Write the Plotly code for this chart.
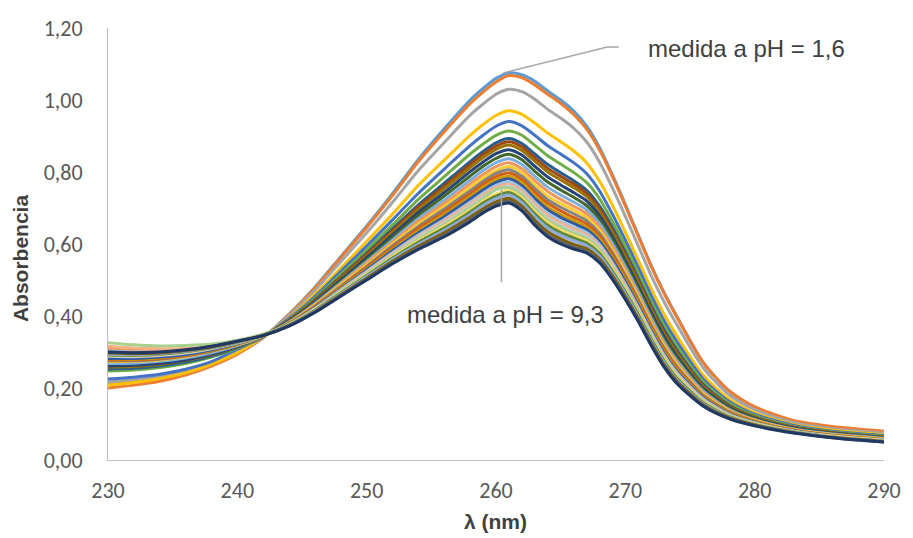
import plotly.graph_objects as go

# Wavelength grid (nm)
wavelength = [230, 232, 234, 236, 238, 240, 242, 244, 246, 248, 250, 252, 254, 256, 258,
              259, 260, 261, 262, 263, 264, 265, 266, 267, 268, 269, 270, 271, 272, 273, 274,
              276, 278, 280, 283, 286, 290]

# Absorbance spectra (one list per measurement, from pH 1,6 down to pH 9,3)
s01 = [0.215,0.218,0.226,0.240,0.263,0.295,0.340,0.405,0.480,0.565,0.650,0.740,0.835,0.920,1.000,1.032,1.060,1.075,1.070,1.052,1.025,1.000,0.970,0.928,0.868,0.792,0.710,0.625,0.540,0.465,0.398,0.272,0.192,0.146,0.108,0.091,0.078]
s02 = [0.200,0.208,0.219,0.236,0.261,0.294,0.340,0.404,0.478,0.562,0.646,0.735,0.829,0.912,0.990,1.022,1.050,1.068,1.062,1.042,1.016,0.991,0.960,0.920,0.862,0.788,0.706,0.622,0.538,0.463,0.396,0.272,0.193,0.148,0.110,0.093,0.080]
s03 = [0.217,0.223,0.232,0.246,0.269,0.299,0.341,0.401,0.471,0.551,0.631,0.716,0.804,0.882,0.958,0.989,1.016,1.030,1.023,1.002,0.974,0.950,0.922,0.884,0.828,0.756,0.677,0.595,0.512,0.439,0.375,0.257,0.182,0.140,0.104,0.087,0.075]
s04 = [0.208,0.215,0.226,0.242,0.266,0.298,0.342,0.395,0.460,0.533,0.607,0.683,0.763,0.833,0.902,0.932,0.957,0.970,0.960,0.936,0.908,0.884,0.859,0.826,0.775,0.708,0.633,0.555,0.476,0.405,0.344,0.237,0.170,0.131,0.098,0.083,0.070]
s05 = [0.225,0.230,0.238,0.252,0.273,0.308,0.342,0.393,0.454,0.524,0.594,0.667,0.741,0.808,0.873,0.902,0.927,0.940,0.928,0.902,0.873,0.850,0.826,0.796,0.748,0.683,0.611,0.535,0.457,0.387,0.328,0.226,0.163,0.127,0.096,0.080,0.068]
s06 = [0.247,0.250,0.257,0.268,0.286,0.311,0.343,0.390,0.449,0.516,0.583,0.653,0.724,0.787,0.850,0.878,0.902,0.914,0.902,0.874,0.845,0.822,0.799,0.771,0.726,0.663,0.593,0.518,0.441,0.373,0.315,0.218,0.158,0.123,0.093,0.078,0.066]
s07 = [0.253,0.255,0.261,0.272,0.289,0.313,0.343,0.388,0.445,0.509,0.574,0.642,0.709,0.769,0.829,0.857,0.881,0.893,0.879,0.850,0.821,0.798,0.776,0.750,0.706,0.646,0.577,0.504,0.428,0.361,0.304,0.210,0.153,0.120,0.091,0.076,0.064]
s08 = [0.272,0.272,0.276,0.285,0.298,0.316,0.343,0.388,0.443,0.507,0.571,0.637,0.703,0.761,0.821,0.849,0.872,0.884,0.870,0.840,0.810,0.788,0.767,0.741,0.698,0.638,0.570,0.498,0.422,0.355,0.299,0.207,0.151,0.119,0.091,0.076,0.063]
s09 = [0.258,0.260,0.265,0.276,0.292,0.314,0.343,0.387,0.441,0.504,0.567,0.632,0.696,0.754,0.812,0.840,0.863,0.875,0.860,0.830,0.800,0.778,0.757,0.732,0.690,0.631,0.564,0.492,0.417,0.350,0.295,0.204,0.149,0.118,0.090,0.075,0.063]
s10 = [0.261,0.263,0.268,0.278,0.294,0.316,0.344,0.386,0.439,0.500,0.562,0.625,0.688,0.743,0.801,0.828,0.851,0.862,0.847,0.816,0.786,0.764,0.743,0.720,0.679,0.621,0.554,0.483,0.409,0.343,0.288,0.200,0.147,0.116,0.089,0.074,0.062]
s11 = [0.283,0.281,0.283,0.290,0.302,0.320,0.344,0.384,0.436,0.496,0.556,0.618,0.679,0.733,0.789,0.816,0.838,0.849,0.834,0.802,0.772,0.750,0.730,0.707,0.668,0.611,0.545,0.475,0.401,0.336,0.282,0.196,0.144,0.114,0.087,0.073,0.061]
s12 = [0.268,0.269,0.274,0.283,0.298,0.318,0.344,0.383,0.434,0.492,0.551,0.611,0.670,0.722,0.777,0.804,0.826,0.837,0.821,0.788,0.758,0.736,0.717,0.695,0.657,0.601,0.536,0.467,0.394,0.328,0.275,0.192,0.141,0.112,0.086,0.072,0.060]
s13 = [0.310,0.306,0.305,0.307,0.313,0.324,0.344,0.382,0.432,0.489,0.547,0.605,0.663,0.713,0.767,0.793,0.815,0.826,0.809,0.776,0.746,0.724,0.705,0.684,0.647,0.592,0.528,0.459,0.387,0.322,0.270,0.188,0.139,0.111,0.085,0.071,0.059]
s14 = [0.273,0.274,0.278,0.287,0.301,0.320,0.344,0.381,0.430,0.486,0.542,0.600,0.655,0.704,0.757,0.783,0.804,0.815,0.798,0.764,0.733,0.712,0.694,0.674,0.638,0.583,0.520,0.452,0.380,0.316,0.264,0.184,0.137,0.109,0.084,0.070,0.058]
s15 = [0.276,0.276,0.280,0.289,0.302,0.321,0.345,0.380,0.428,0.483,0.538,0.595,0.649,0.697,0.748,0.774,0.796,0.806,0.788,0.754,0.723,0.702,0.684,0.665,0.630,0.576,0.513,0.446,0.375,0.311,0.259,0.181,0.135,0.108,0.083,0.069,0.057]
s16 = [0.278,0.278,0.282,0.290,0.304,0.322,0.345,0.380,0.426,0.480,0.535,0.590,0.643,0.689,0.740,0.766,0.787,0.797,0.779,0.744,0.713,0.692,0.674,0.656,0.622,0.569,0.507,0.440,0.369,0.306,0.255,0.178,0.133,0.107,0.083,0.069,0.056]
s17 = [0.281,0.280,0.284,0.292,0.305,0.323,0.345,0.379,0.424,0.478,0.531,0.585,0.636,0.682,0.731,0.757,0.778,0.788,0.770,0.734,0.703,0.682,0.665,0.647,0.614,0.561,0.500,0.434,0.364,0.300,0.250,0.175,0.131,0.106,0.082,0.068,0.056]
s18 = [0.282,0.282,0.286,0.293,0.306,0.324,0.345,0.378,0.423,0.475,0.528,0.581,0.631,0.676,0.725,0.750,0.771,0.781,0.762,0.726,0.695,0.674,0.657,0.640,0.607,0.556,0.495,0.429,0.359,0.296,0.246,0.173,0.129,0.104,0.081,0.067,0.055]
s19 = [0.303,0.300,0.300,0.303,0.311,0.325,0.345,0.377,0.421,0.473,0.524,0.576,0.625,0.668,0.716,0.741,0.762,0.772,0.753,0.716,0.685,0.664,0.647,0.632,0.599,0.548,0.488,0.423,0.354,0.291,0.242,0.170,0.127,0.103,0.080,0.067,0.055]
s20 = [0.316,0.311,0.309,0.310,0.315,0.327,0.345,0.377,0.420,0.471,0.522,0.573,0.621,0.664,0.711,0.736,0.757,0.766,0.747,0.710,0.679,0.658,0.642,0.626,0.594,0.544,0.484,0.420,0.350,0.288,0.239,0.168,0.126,0.102,0.080,0.066,0.054]
s21 = [0.288,0.287,0.290,0.297,0.309,0.326,0.345,0.376,0.419,0.469,0.520,0.570,0.618,0.659,0.706,0.731,0.751,0.761,0.741,0.704,0.673,0.652,0.636,0.621,0.590,0.540,0.480,0.416,0.347,0.285,0.236,0.166,0.125,0.102,0.079,0.066,0.054]
s22 = [0.326,0.320,0.317,0.318,0.322,0.333,0.350,0.376,0.418,0.468,0.517,0.567,0.614,0.655,0.701,0.726,0.752,0.756,0.736,0.698,0.667,0.646,0.630,0.616,0.585,0.535,0.476,0.413,0.344,0.282,0.233,0.164,0.124,0.101,0.079,0.065,0.053]
s23 = [0.291,0.290,0.293,0.300,0.311,0.327,0.345,0.375,0.417,0.465,0.514,0.564,0.609,0.649,0.694,0.719,0.739,0.748,0.728,0.690,0.659,0.638,0.623,0.609,0.578,0.530,0.471,0.408,0.339,0.278,0.230,0.162,0.122,0.100,0.078,0.065,0.053]
s24 = [0.292,0.291,0.294,0.301,0.312,0.327,0.346,0.375,0.416,0.464,0.512,0.561,0.605,0.644,0.689,0.714,0.733,0.743,0.722,0.684,0.652,0.632,0.617,0.603,0.574,0.525,0.467,0.404,0.336,0.275,0.227,0.160,0.121,0.099,0.078,0.064,0.052]
s25 = [0.294,0.293,0.295,0.302,0.313,0.328,0.346,0.374,0.414,0.462,0.509,0.557,0.600,0.638,0.682,0.707,0.726,0.736,0.715,0.676,0.644,0.624,0.609,0.596,0.567,0.519,0.462,0.399,0.331,0.270,0.223,0.157,0.120,0.098,0.077,0.064,0.052]
s26 = [0.297,0.295,0.297,0.304,0.314,0.329,0.346,0.373,0.412,0.459,0.505,0.552,0.594,0.631,0.674,0.698,0.717,0.727,0.705,0.666,0.634,0.614,0.599,0.587,0.559,0.512,0.455,0.393,0.326,0.265,0.219,0.154,0.118,0.097,0.076,0.063,0.051]
s27 = [0.299,0.297,0.299,0.305,0.315,0.330,0.346,0.373,0.411,0.457,0.502,0.548,0.589,0.625,0.667,0.691,0.710,0.719,0.698,0.658,0.626,0.606,0.592,0.580,0.553,0.506,0.450,0.389,0.321,0.261,0.215,0.152,0.116,0.096,0.076,0.062,0.050]
s28 = [0.300,0.298,0.300,0.306,0.316,0.330,0.346,0.372,0.410,0.455,0.500,0.545,0.585,0.620,0.662,0.686,0.705,0.714,0.692,0.652,0.620,0.600,0.586,0.575,0.548,0.502,0.446,0.385,0.318,0.258,0.212,0.150,0.115,0.095,0.075,0.062,0.050]

spectra = [s01, s02, s03, s04, s05, s06, s07, s08, s09, s10, s11, s12, s13, s14,
           s15, s16, s17, s18, s19, s20, s21, s22, s23, s24, s25, s26, s27, s28]

colors = ["#5B9BD5", "#ED7D31", "#A5A5A5", "#FFC000", "#4472C4", "#70AD47",
          "#255E91", "#9E480E", "#997300", "#264478", "#43682B", "#7CAFDD",
          "#F1975A", "#FFCD33", "#848484", "#D26012", "#CC9A00", "#335AA1",
          "#9DC3E6", "#F4B183", "#C9C9C9", "#A9D18E", "#FFD966", "#5A8A39",
          "#8FAADC", "#7F6000", "#636363", "#203864"]

label_low = "medida a pH = 1,6"
label_high = "medida a pH = 9,3"

tick_font = dict(family="Carlito, Calibri, 'Liberation Sans', Arial, sans-serif", size=22, color="#595959")
title_font = dict(family="'Liberation Sans', Arial, sans-serif", size=21, color="#404040")
note_font = dict(family="'Liberation Sans', Arial, sans-serif", size=24, color="#404040")

fig = go.Figure()
for vals, col in zip(spectra, colors):
    fig.add_trace(go.Scatter(
        x=wavelength, y=vals, mode="lines",
        line=dict(color=col, width=3, shape="spline", smoothing=0.7),
        hoverinfo="skip", showlegend=False))

fig.update_layout(
    width=913, height=538,
    margin=dict(l=108, r=20, t=28, b=78),
    paper_bgcolor="white", plot_bgcolor="white",
    separators=",.",
    showlegend=False,
    xaxis=dict(range=[230, 290], tick0=230, dtick=10, showgrid=False, zeroline=False,
               showline=True, linecolor="#BFBFBF", linewidth=1, ticks="",
               tickfont=tick_font, ticklabelstandoff=11),
    yaxis=dict(range=[0, 1.2], tick0=0, dtick=0.2, tickformat=".2f", showgrid=False,
               zeroline=False, showline=True, linecolor="#BFBFBF", linewidth=1, ticks="",
               tickfont=tick_font, ticklabelstandoff=20),
    shapes=[
        dict(type="path", xref="x", yref="y",
             path="M 260.57,1.075 L 268.6,1.147 L 269.5,1.147",
             line=dict(color="#A6A6A6", width=1.5)),
        dict(type="line", xref="x", yref="y", x0=260.42, x1=260.42, y0=0.75, y1=0.494,
             line=dict(color="#A6A6A6", width=1.5)),
    ],
    annotations=[
        dict(text=label_low, x=271.58, y=1.144, xref="x", yref="y", xanchor="left",
             yanchor="middle", showarrow=False, font=note_font),
        dict(text=label_high, x=260.7, y=0.403, xref="x", yref="y", xanchor="center",
             yanchor="middle", showarrow=False, font=note_font),
        dict(text="<b>Absorbencia</b>", x=-0.112, y=0.4676, xref="paper", yref="paper",
             textangle=-90, showarrow=False, font=title_font, xanchor="center", yanchor="middle"),
        dict(text="<b>λ (nm)</b>", x=0.4994, y=-0.1435, xref="paper", yref="paper",
             showarrow=False, font=title_font, xanchor="center", yanchor="middle"),
    ],
)

fig.write_html("out.html")
